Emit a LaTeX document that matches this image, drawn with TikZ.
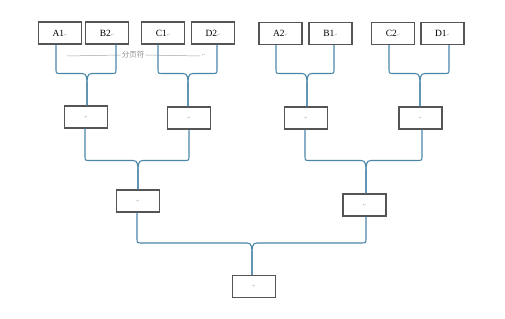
\documentclass[tikz,border=0pt]{standalone}
\usepackage{fontspec}
\setmainfont{Liberation Serif}
\newfontfamily\symfont{DejaVu Sans}
\newfontfamily\cjkfont{Noto Sans CJK SC}
\usetikzlibrary{calc}
\definecolor{conncol}{RGB}{74,134,168}
\definecolor{boxcol}{RGB}{85,85,85}
\newcommand\pmark{{\symfont\fontsize{4}{4}\selectfont\textcolor{gray!70}{↵}}}
% #1 start coordinate, #2 y of horizontal, #3 tip coordinate, #4 direction (1 right, -1 left)
\newcommand\halfbrace[4]{%
  \draw[conn] let \p1=(#1), \p2=(#3) in
    (\p1) -- (\x1,#2+5pt) .. controls (\x1,#2) .. (\x1+#4*5pt,#2)
    -- (\x2-#4*5pt,#2) .. controls (\x2,#2) and (\x2,#2-4pt) .. (\x2,#2-14pt)
    -- (\p2);}
\begin{document}
\begin{tikzpicture}[x=1pt,y=1pt,
  box/.style={draw=boxcol,line width=1.3pt,minimum width=43pt,minimum height=22pt,
    inner sep=0pt,fill=white,font=\fontsize{9.5}{10}\selectfont},
  conn/.style={draw=conncol,line width=1.1pt},
  sepline/.style={draw=gray!70,line width=0.5pt},
  septext/.style={font=\cjkfont\fontsize{7.5}{8}\selectfont,text=gray!90,inner sep=1pt}]
\useasboundingbox (0,0) rectangle (505,318);

% page-break marker
\coordinate (sepL) at (67,262);
\coordinate (sepR) at (200,262);
\node[septext] (sep) at (133,263) {分页符};
\node[inner sep=0pt] (sepm) at (203.5,263) {\pmark};
\draw[sepline] (sepL) -- (sep.west);
\draw[sepline] (sep.east) -- (sepR);

% top row
\node[box] (A1) at (60,285) {A1\pmark};
\node[box] (B2) at (107,285) {B2\pmark};
\node[box] (C1) at (163,285) {C1\pmark};
\node[box] (D2) at (213,285) {D2\pmark};
\node[box] (A2) at (280.5,284.5) {A2\pmark};
\node[box] (B1) at (330.5,284.5) {B1\pmark};
\node[box] (C2) at (393,284.5) {C2\pmark};
\node[box] (D1) at (442.5,284.5) {D1\pmark};

% second row
\node[box] (m1) at (86,201) {\pmark};
\node[box] (m2) at (189,200) {\pmark};
\node[box] (m3) at (306,200) {\pmark};
\node[box] (m4) at (420.5,200) {\pmark};

% third row
\node[box] (n1) at (138,117) {\pmark};
\node[box] (n2) at (364.5,113) {\pmark};

% bottom
\node[box] (f) at (254,31.5) {\pmark};

% braces, top row
\halfbrace{[xshift=-4pt]A1.south}{244.5pt}{[xshift=1pt]m1.north}{1}
\halfbrace{[xshift=9pt]B2.south}{244.5pt}{[xshift=1pt]m1.north}{-1}
\halfbrace{[xshift=-5pt]C1.south}{244.5pt}{[xshift=-1pt]m2.north}{1}
\halfbrace{[xshift=4pt]D2.south}{244.5pt}{[xshift=-1pt]m2.north}{-1}
\halfbrace{[xshift=-4.5pt]A2.south}{244.5pt}{[xshift=1pt]m3.north}{1}
\halfbrace{[xshift=3.5pt]B1.south}{244.5pt}{[xshift=1pt]m3.north}{-1}
\halfbrace{[xshift=-4pt]C2.south}{244.5pt}{[xshift=-0.5pt]m4.north}{1}
\halfbrace{[xshift=6.5pt]D1.south}{244.5pt}{[xshift=-0.5pt]m4.north}{-1}

% braces, second row
\halfbrace{[xshift=-1pt]m1.south}{157.5pt}{n1.north}{1}
\halfbrace{m2.south}{157.5pt}{n1.north}{-1}
\halfbrace{[xshift=-1pt]m3.south}{157.5pt}{[xshift=1.5pt]n2.north}{1}
\halfbrace{[xshift=1.5pt]m4.south}{157.5pt}{[xshift=1.5pt]n2.north}{-1}

% braces, third row
\halfbrace{[xshift=-1pt]n1.south}{75pt}{[xshift=-2pt]f.north}{1}
\halfbrace{[xshift=1.5pt]n2.south}{75pt}{[xshift=-2pt]f.north}{-1}
\end{tikzpicture}
\end{document}
